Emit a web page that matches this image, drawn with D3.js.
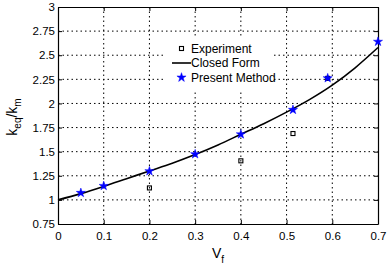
<!DOCTYPE html>
<html>
<head>
<meta charset="utf-8">
<script src="https://cdn.jsdelivr.net/npm/d3@7"></script>
<style>
  body { margin: 0; background: #fff; }
  svg { display: block; font-family: "Liberation Sans", Arial, sans-serif; }
</style>
</head>
<body>
<svg id="chart" width="388" height="268"></svg>
<script>
// values
const xTicks = [0, 0.1, 0.2, 0.3, 0.4, 0.5, 0.6, 0.7];
const yTicks = [0.75, 1, 1.25, 1.5, 1.75, 2, 2.25, 2.5, 2.75, 3];

const experimentVf = [0.2, 0.4, 0.514, 0.59];
const experimentK = [1.124, 1.405, 1.688, 2.26];

const closedVf = [0, 0.05, 0.1, 0.15, 0.2, 0.25, 0.3, 0.35, 0.4, 0.45, 0.5, 0.55, 0.6, 0.65, 0.7];
const closedK = [1.0, 1.065, 1.14, 1.22, 1.30, 1.38, 1.47, 1.57, 1.68, 1.79, 1.91, 2.04, 2.19, 2.37, 2.58];

const presentVf = [0.05, 0.1, 0.2, 0.3, 0.4, 0.514, 0.59, 0.7];
const presentK = [1.073, 1.145, 1.298, 1.474, 1.68, 1.934, 2.262, 2.64];

const legendLabels = ['Experiment', 'Closed Form', 'Present Method'];

const margin = { top: 7, right: 10, bottom: 44, left: 58 };
const width = 388 - margin.left - margin.right;
const height = 268 - margin.top - margin.bottom;

const svg = d3.select('#chart');
const g = svg.append('g').attr('transform', `translate(${margin.left},${margin.top})`);

const x = d3.scaleLinear().domain([0, 0.7]).range([0, width]);
const y = d3.scaleLinear().domain([0.75, 3]).range([height, 0]);

// grid
g.append('g').selectAll('line').data(xTicks.slice(1, -1)).enter().append('line')
  .attr('x1', d => x(d)).attr('x2', d => x(d)).attr('y1', 0).attr('y2', height)
  .attr('stroke', '#000').attr('stroke-width', 1).attr('stroke-dasharray', '1.5,3');
g.append('g').selectAll('line').data(yTicks.slice(1, -1)).enter().append('line')
  .attr('x1', 0).attr('x2', width).attr('y1', d => y(d)).attr('y2', d => y(d))
  .attr('stroke', '#000').attr('stroke-width', 1).attr('stroke-dasharray', '1.5,3');

// axes
g.append('g').attr('transform', `translate(0,${height})`)
  .call(d3.axisBottom(x).tickValues(xTicks).tickFormat(d3.format('')).tickSizeInner(-4).tickSizeOuter(0).tickPadding(8));
g.append('g')
  .call(d3.axisLeft(y).tickValues(yTicks).tickFormat(d3.format('')).tickSizeInner(-4).tickSizeOuter(0).tickPadding(3));
g.append('g').attr('transform', `translate(${width},0)`)
  .call(d3.axisRight(y).tickValues(yTicks).tickFormat('').tickSizeInner(-4).tickSizeOuter(0));
g.append('g')
  .call(d3.axisTop(x).tickValues(xTicks).tickFormat('').tickSizeInner(-4).tickSizeOuter(0));
g.selectAll('.domain').attr('stroke', '#000').attr('stroke-width', 1.2);
g.selectAll('.tick text').attr('font-size', 11.5).attr('fill', '#000')
  .attr('font-family', '"Liberation Sans", Arial, sans-serif');

// closed form curve
const closed = closedVf.map((v, i) => [v, closedK[i]]);
g.append('path').datum(closed)
  .attr('fill', 'none').attr('stroke', '#000').attr('stroke-width', 1.6)
  .attr('d', d3.line().x(d => x(d[0])).y(d => y(d[1])).curve(d3.curveMonotoneX));

// experiment squares
g.append('g').selectAll('rect').data(experimentVf).enter().append('rect')
  .attr('x', d => x(d) - 2).attr('y', (d, i) => y(experimentK[i]) - 2)
  .attr('width', 4).attr('height', 4)
  .attr('fill', 'none').attr('stroke', '#000').attr('stroke-width', 1.1);

// present method stars
const star = d3.symbol().type(d3.symbolStar).size(26);
g.append('g').selectAll('path').data(presentVf).enter().append('path')
  .attr('transform', (d, i) => `translate(${x(d)},${y(presentK[i])})`)
  .attr('d', star).attr('fill', '#0000ff').attr('stroke', '#0000ff').attr('stroke-width', 0.5);

// legend
const lg = g.append('g').attr('transform', `translate(${165 - margin.left},${38 - margin.top})`);
lg.append('rect').attr('width', 109).attr('height', 54).attr('fill', '#fff');
const rowY = [10.5, 25, 39.5];
lg.append('rect').attr('x', 14.5).attr('y', rowY[0] - 2).attr('width', 4).attr('height', 4)
  .attr('fill', 'none').attr('stroke', '#000').attr('stroke-width', 1.1);
lg.append('line').attr('x1', 7).attr('x2', 26).attr('y1', rowY[1]).attr('y2', rowY[1])
  .attr('stroke', '#000').attr('stroke-width', 1.6);
lg.append('path').attr('transform', `translate(16.5,${rowY[2]})`).attr('d', star)
  .attr('fill', '#0000ff').attr('stroke', '#0000ff').attr('stroke-width', 0.5);
lg.selectAll('text').data(legendLabels).enter().append('text')
  .attr('x', 26).attr('y', (d, i) => rowY[i]).attr('dy', '0.35em')
  .attr('font-size', 12).attr('fill', '#000').text(d => d);

// axis labels
const xl = svg.append('text').attr('x', 218).attr('y', 258).attr('text-anchor', 'middle')
  .attr('font-size', 14).attr('fill', '#000');
xl.append('tspan').text('V');
xl.append('tspan').attr('font-size', 10).attr('dy', 5).text('f');

const yl = svg.append('text').attr('transform', 'translate(17,117) rotate(-90)')
  .attr('text-anchor', 'middle').attr('font-size', 14).attr('fill', '#000');
yl.append('tspan').text('k');
yl.append('tspan').attr('font-size', 10).attr('dy', 4).text('eq');
yl.append('tspan').attr('dy', -4).text('/k');
yl.append('tspan').attr('font-size', 10).attr('dy', 4).text('m');
</script>
</body>
</html>
